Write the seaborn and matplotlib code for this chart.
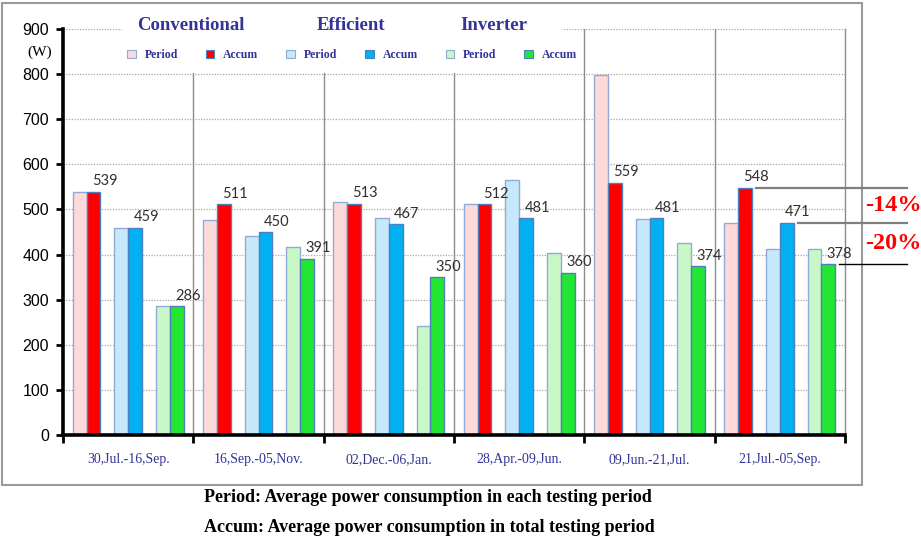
import matplotlib
matplotlib.use("Agg")
import matplotlib.pyplot as plt
import matplotlib.colors as mcolors
from matplotlib.patches import Patch, Rectangle
from matplotlib.lines import Line2D
import pandas as pd
import seaborn as sns

# ---- data -------------------------------------------------------------
periods = ["30,Jul.-16,Sep.", "16,Sep.-05,Nov.", "02,Dec.-06,Jan.",
           "28,Apr.-09,Jun.", "09,Jun.-21,Jul.", "21,Jul.-05,Sep."]
conv_period = [539, 477, 516, 512, 797, 469]
conv_accum = [539, 511, 513, 512, 559, 548]
eff_period = [459, 442, 480, 565, 478, 412]
eff_accum = [459, 450, 467, 481, 481, 471]
inv_period = [286, 417, 242, 403, 425, 412]
inv_accum = [286, 391, 350, 360, 374, 378]
groups = ["Conventional", "Efficient", "Inverter"]
y_ticks = [0, 100, 200, 300, 400, 500, 600, 700, 800, 900]

series = {
    "Conventional Period": conv_period, "Conventional Accum": conv_accum,
    "Efficient Period": eff_period, "Efficient Accum": eff_accum,
    "Inverter Period": inv_period, "Inverter Accum": inv_accum,
}
rows = []
for name, vals in series.items():
    for p, v in zip(periods, vals):
        rows.append({"period": p, "series": name, "watts": v})
df = pd.DataFrame(rows)

# two empty hue slots keep a gap between the three pairs of bars
hue_order = ["Conventional Period", "Conventional Accum", "_sp1",
             "Efficient Period", "Efficient Accum", "_sp2",
             "Inverter Period", "Inverter Accum"]
colors = {
    "Conventional Period": "#FDD9D9", "Conventional Accum": "#FF0000",
    "Efficient Period": "#C5E9FA", "Efficient Accum": "#00B0F0",
    "Inverter Period": "#C8F8C8", "Inverter Accum": "#22E632",
    "_sp1": "white", "_sp2": "white",
}
edge_period = "#93A9D6"
edge_accum = "#4F7FC0"
navy = "#333399"

# ---- figure -------------------------------------------------------------
W, H = 921, 543
fig = plt.figure(figsize=(W / 100, H / 100), dpi=100)
ax = fig.add_axes([63 / W, 1 - 435 / H, (845 - 63) / W, (435 - 29) / H])

sns.barplot(data=df, x="period", y="watts", hue="series", hue_order=hue_order,
            order=periods, palette=colors, saturation=1, width=0.85,
            errorbar=None, legend=False, ax=ax, zorder=3)

face_to_edge = {}
for name in series:
    face_to_edge[mcolors.to_hex(colors[name])] = edge_period if "Period" in name else edge_accum
for p in ax.patches:
    fc = mcolors.to_hex(p.get_facecolor())
    if fc in face_to_edge:
        p.set_edgecolor(face_to_edge[fc])
        p.set_linewidth(1.0)

ax.set_xlim(-0.5, len(periods) - 0.5)
ax.set_ylim(0, 900)
ax.set_xlabel("")
ax.set_ylabel("")

# grid and group separators
ax.set_yticks(y_ticks)
ax.set_yticklabels([str(t) for t in y_ticks], fontsize=11.5,
                   family="Liberation Sans", color="black")
ax.yaxis.grid(True, linestyle=(0, (1, 1.2)), color="#A8A8A8", linewidth=0.9)
ax.xaxis.grid(False)
ax.set_axisbelow(True)
for i in range(len(periods) - 1):
    ax.axvline(i + 0.5, color="#8C8C8C", linewidth=1.0, zorder=2)

ax.spines["top"].set_visible(False)
ax.spines["right"].set_color("#8C8C8C")
ax.spines["right"].set_linewidth(1.0)
for side in ("left", "bottom"):
    ax.spines[side].set_color("black")
    ax.spines[side].set_linewidth(2.6)
    ax.spines[side].set_zorder(4)

ax.tick_params(axis="y", direction="out", length=5, width=2, pad=5)
ax.set_xticks(range(len(periods)))
ax.set_xticklabels(periods, fontsize=10, family="Liberation Serif", color=navy)
ax.tick_params(axis="x", which="major", length=0, pad=13)
ax.set_xticks([i - 0.5 for i in range(len(periods) + 1)], minor=True)
ax.tick_params(axis="x", which="minor", direction="out", length=6, width=2)

# value labels above the cumulative bars
accum_faces = {mcolors.to_hex(colors[n]) for n in series if "Accum" in n}
accum_bars = {}
for p in ax.patches:
    fc = mcolors.to_hex(p.get_facecolor())
    if fc in accum_faces and p.get_height() > 0:
        accum_bars.setdefault(fc, []).append(p)
        ax.annotate(f"{p.get_height():.0f}",
                    xy=(p.get_x() + p.get_width() / 2, p.get_height()),
                    xytext=(8, 2.5), textcoords="offset points",
                    ha="center", va="bottom", fontsize=10.5,
                    family="Lato", color="#303030", zorder=6)

# savings against the conventional unit in the last period
last = len(periods) - 1
to_fig = ax.transData + fig.transFigure.inverted()
line_specs = [(conv_accum, "Conventional Accum", "#7F7F7F", 1.6),
              (eff_accum, "Efficient Accum", "#7F7F7F", 1.6),
              (inv_accum, "Inverter Accum", "black", 1.0)]
for vals, name, col, lw in line_specs:
    bars = sorted(accum_bars[mcolors.to_hex(colors[name])], key=lambda b: b.get_x())
    b = bars[last]
    x0, y0 = to_fig.transform((b.get_x() + b.get_width(), vals[last]))
    fig.add_artist(Line2D([x0 + 4 / W, 907 / W], [y0, y0], color=col,
                          linewidth=lw, transform=fig.transFigure))

pairs = [(conv_accum[last], eff_accum[last]), (eff_accum[last], inv_accum[last])]
for a, b in pairs:
    pct = round((b - a) / a * 100)
    _, ym = to_fig.transform((0, (a + b) / 2))
    fig.text(893 / W, ym, f"{pct}%", ha="center", va="center", color="#FF0000",
             fontsize=17.5, fontweight="bold", family="Liberation Serif")

# unit label
fig.text(40 / W, 1 - 52 / H, "(W)", ha="center", va="center", fontsize=11,
         family="Liberation Serif")

# legend block: white panel, group titles and swatches
fig.add_artist(Rectangle((122 / W, 1 - 73 / H), (562 - 122) / W, (73 - 9) / H,
                         transform=fig.transFigure, facecolor="white",
                         edgecolor="none", zorder=1))
for g, xc in zip(groups, [191, 351, 494]):
    fig.text(xc / W, 1 - 26 / H, g, ha="center", va="center", fontsize=13.5,
             fontweight="bold", family="Liberation Serif", color=navy, zorder=6)

handles, labels = [], []
for name in series:
    ec = edge_period if "Period" in name else edge_accum
    handles.append(Patch(facecolor=colors[name], edgecolor=ec, linewidth=0.8))
    labels.append(name.split()[1])
fig.legend(handles, labels, ncol=6, loc="center",
           bbox_to_anchor=(352 / W, 1 - 55 / H), frameon=False,
           prop={"family": "Liberation Serif", "size": 8.5, "weight": "bold"},
           labelcolor=navy, handlelength=0.75, handleheight=0.75,
           handletextpad=0.75, columnspacing=2.35)

# outer frame
fig.add_artist(Rectangle((2 / W, 1 - 485 / H), (862 - 2) / W, (485 - 3) / H,
                         transform=fig.transFigure, fill=False,
                         edgecolor="#9A9A9A", linewidth=1.5, zorder=0))

# definitions below the chart
fig.text(204 / W, 1 - 498 / H,
         "Period: Average power consumption in each testing period",
         ha="left", va="center", fontsize=13, fontweight="bold",
         family="Liberation Serif")
fig.text(204 / W, 1 - 528 / H,
         "Accum: Average power consumption in total testing period",
         ha="left", va="center", fontsize=13, fontweight="bold",
         family="Liberation Serif")

fig.savefig("out.png", dpi=100)
